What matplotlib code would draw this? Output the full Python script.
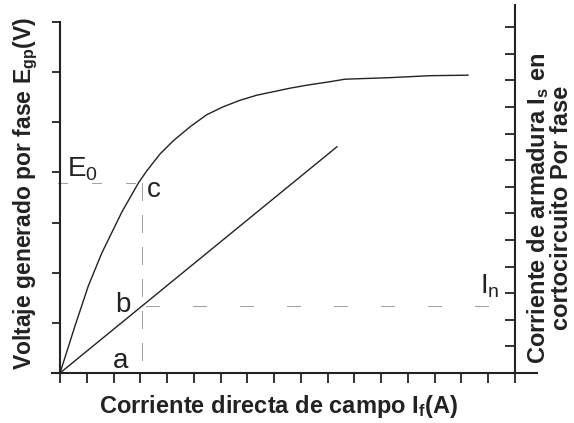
import matplotlib
matplotlib.use("Agg")
import matplotlib.pyplot as plt
from matplotlib import font_manager

# open-circuit characteristic: field current (tick units) vs generated voltage (left units)
occ_if = [0.0, 0.56, 1.06, 1.56, 2.31, 2.93, 3.24, 3.74, 4.23, 4.86, 5.48, 6.10, 6.73,
          7.35, 7.97, 8.59, 9.22, 10.09, 10.65, 12.29, 13.83, 15.25]
occ_e = [0.0, 0.94, 1.74, 2.39, 3.21, 3.79, 4.03, 4.37, 4.63, 4.91, 5.15, 5.31, 5.44,
         5.54, 5.61, 5.68, 5.74, 5.81, 5.86, 5.89, 5.93, 5.94]

# short-circuit characteristic: field current vs armature current (right units)
scc_if = [0.0, 10.35]
scc_ia = [0.0, 8.50]

# operating point c and the matching short-circuit current
if_c = 3.05
e0 = 3.79
i_n = 2.50

left_ticks = list(range(0, 8))
right_ticks = list(range(1, 14))
x_ticks = list(range(0, 18))

INK = "#222222"
DOT = "#444444"
PX = 0.72  # one pixel in points at 100 dpi

names = {f.name for f in font_manager.fontManager.ttflist}
NARROW = "Liberation Sans Narrow" if "Liberation Sans Narrow" in names else "Liberation Sans"
plt.rcParams.update({"font.family": [NARROW, "DejaVu Sans"], "lines.scale_dashes": False})


def dotted(on_px, off_px, start_px=0):
    # runs of single-pixel dots separated by longer gaps
    seq = [PX, PX] * max(1, on_px // 2)
    seq[-1] = off_px * PX
    return (start_px * PX, tuple(seq))


fig = plt.figure(figsize=(5.74, 4.23), dpi=100)
ax = fig.add_axes([52 / 574, 50 / 423, 485 / 574, 368 / 423])
ax.set_xlim(-0.30, 17.83)
ax.set_ylim(0, 7.34)

ax.plot(occ_if, occ_e, color=INK, lw=1.0)

# dotted construction lines through c
ax.plot([-0.07, if_c], [e0, e0], color=DOT, lw=PX, ls=dotted(11, 25))
ax.plot([if_c, if_c], [e0, 0], color=DOT, lw=PX, ls=dotted(18, 15))

for side in ("top", "right"):
    ax.spines[side].set_visible(False)
ax.spines["left"].set_position(("data", 0))
ax.spines["left"].set_bounds(0, 7)
for side in ("left", "bottom"):
    ax.spines[side].set_linewidth(1.5)
    ax.spines[side].set_color(INK)
ax.set_xticks(x_ticks)
ax.set_yticks(left_ticks)
ax.tick_params(axis="x", direction="out", length=7, width=1.3, color=INK, labelbottom=False)
ax.tick_params(axis="y", direction="out", length=6, width=1.3, color=INK, labelleft=False)

ax2 = ax.twinx()
ax2.set_ylim(0, 13.83)
ax2.plot(scc_if, scc_ia, color=INK, lw=1.0)
ax2.plot([if_c + 0.18, 16.74], [i_n, i_n], color=DOT, lw=PX, ls=dotted(14, 34))
for side in ("top", "left", "bottom"):
    ax2.spines[side].set_visible(False)
ax2.spines["right"].set_position(("data", 17))
ax2.spines["right"].set_linewidth(1.5)
ax2.spines["right"].set_color(INK)
ax2.set_yticks(right_ticks)
ax2.tick_params(axis="y", direction="in", length=7, width=1.3, color=INK, labelright=False)

# point labels
lbl = dict(fontsize=20, color=INK, va="baseline", family=[NARROW, "DejaVu Sans"])
ax.text(0.26, 3.91, r"$\mathregular{E_0}$", **lbl)
ax.text(3.25, 3.51, "c", **lbl)
ax.text(2.06, 1.22, "b", **lbl)
ax.text(1.98, 0.10, "a", **lbl)
ax.text(15.7, 1.58, r"$\mathregular{I_n}$", **lbl)

# axis titles
ttl = dict(fontweight="bold", color=INK, family=["Liberation Sans", "DejaVu Sans"])
fig.text(279 / 574, 1 - 406 / 423, r"Corriente directa de campo $\mathregular{I_f}$(A)",
         ha="center", va="center", fontsize=17, **ttl)
fig.text(26 / 574, 1 - 193 / 423, r"Voltaje generado por fase $\mathregular{E_{gp}}$(V)",
         ha="center", va="center", rotation=90, fontsize=16.5, **ttl)
fig.text(549 / 574, 1 - 208 / 423,
         "Corriente de armadura $\\mathregular{I_s}$ en\ncortocircuito Por fase",
         ha="center", va="center", rotation=90, linespacing=0.9, fontsize=17, **ttl)

fig.savefig("out.png", dpi=100)
